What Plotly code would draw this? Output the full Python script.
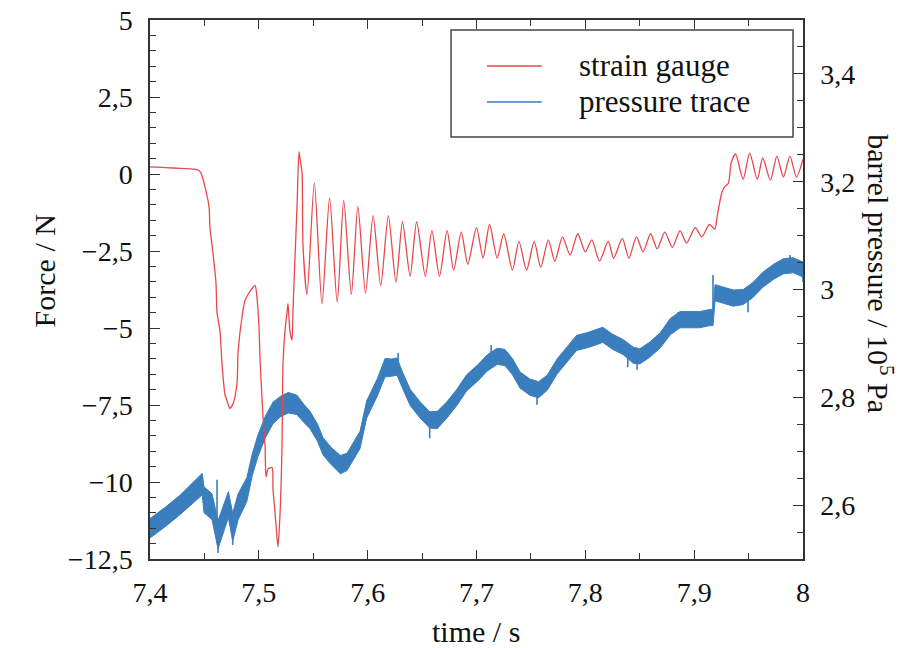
import plotly.graph_objects as go

# strain gauge signal, force in N
t_force = [7.400, 7.414, 7.428, 7.4395, 7.4441, 7.4469, 7.4505, 7.4542, 7.4551, 7.4579,
           7.4606, 7.4616, 7.4643, 7.4662, 7.4689, 7.4708, 7.4726, 7.4735, 7.4763, 7.480,
           7.4809, 7.4845, 7.4873, 7.4919, 7.4965, 7.4983, 7.5002, 7.5011, 7.5029, 7.5038,
           7.5057, 7.5066, 7.5084, 7.5121, 7.513, 7.5149, 7.5167, 7.5176, 7.5195, 7.5213,
           7.5222, 7.524, 7.5259, 7.5268, 7.5286, 7.5305, 7.5314, 7.5332, 7.5351, 7.5369,
           7.5378, 7.5397, 7.5406, 7.5443,
           7.551, 7.558, 7.565, 7.572, 7.578, 7.585, 7.591, 7.598, 7.605, 7.612,
           7.619, 7.626, 7.632, 7.639, 7.645, 7.653, 7.659, 7.666, 7.673, 7.679,
           7.686, 7.692, 7.700, 7.706, 7.712, 7.719, 7.725, 7.733, 7.739, 7.746,
           7.753, 7.759, 7.766, 7.772, 7.779, 7.786, 7.793, 7.800, 7.806, 7.813,
           7.821, 7.826, 7.834, 7.840, 7.847, 7.853, 7.860, 7.866, 7.873, 7.880,
           7.887, 7.893, 7.901, 7.907, 7.914, 7.919, 7.921, 7.9255, 7.928, 7.9315,
           7.934, 7.938, 7.945, 7.951, 7.958, 7.963, 7.970, 7.976, 7.982, 7.988,
           7.994, 8.000]
force = [0.23, 0.21, 0.18, 0.16, 0.13, 0.03, -0.42, -1.05, -1.74, -2.58,
         -3.52, -4.50, -5.10, -6.18, -7.17, -7.36, -7.56, -7.61, -7.46, -6.77,
         -5.79, -4.65, -4.11, -3.81, -3.62, -4.01, -5.00, -5.98, -7.27, -7.86,
         -8.84, -9.83, -9.58, -9.53, -10.22, -11.01, -11.80, -12.10, -11.01, -8.84,
         -6.18, -5.10, -4.50, -4.21, -5.10, -5.39, -4.41, -2.73, -1.05, 0.72,
         0.52, 0.03, -2.34, -3.91,
         -0.29, -4.21, -0.78, -4.17, -0.86, -3.91, -1.05, -3.87, -1.35, -3.62,
         -1.35, -3.52, -1.55, -3.32, -1.55, -3.32, -1.84, -3.32, -1.84, -3.12,
         -1.89, -2.93, -1.74, -2.73, -1.64, -2.73, -1.94, -3.12, -2.19, -3.12,
         -2.19, -3.03, -2.14, -2.83, -2.04, -2.63, -1.94, -2.53, -2.14, -2.83,
         -2.19, -2.73, -2.09, -2.73, -2.04, -2.53, -1.94, -2.43, -1.89, -2.38,
         -1.84, -2.24, -1.74, -2.04, -1.64, -1.79, -1.40, -0.59, -0.42, -0.29,
         0.36, 0.65, -0.17, 0.68, -0.17, 0.52, -0.20, 0.58, -0.10, 0.58,
         -0.10, 0.48]

# pressure trace, 10^5 Pa: centre of the noisy band and its half width
t_press = [7.400, 7.414, 7.428, 7.441, 7.448, 7.4496, 7.457, 7.4625, 7.469, 7.472,
           7.476, 7.481, 7.489, 7.494, 7.499, 7.506, 7.513, 7.520, 7.527, 7.535,
           7.541, 7.547, 7.554, 7.559, 7.567, 7.575, 7.581, 7.588, 7.593, 7.599,
           7.609, 7.616, 7.622, 7.627, 7.632, 7.639, 7.648, 7.657, 7.664, 7.673,
           7.682, 7.691, 7.701, 7.710, 7.719, 7.726, 7.733, 7.740, 7.749, 7.757,
           7.765, 7.774, 7.783, 7.792, 7.802, 7.811, 7.816, 7.825, 7.835, 7.844,
           7.850, 7.859, 7.869, 7.878, 7.887, 7.896, 7.905, 7.9146, 7.9173, 7.9192,
           7.927, 7.936, 7.945, 7.954, 7.963, 7.973, 7.982, 7.991, 8.000]
press_mid = [2.557, 2.578, 2.601, 2.625, 2.639, 2.610, 2.597, 2.545, 2.582, 2.601,
             2.559, 2.597, 2.629, 2.675, 2.709, 2.745, 2.771, 2.783, 2.790, 2.786,
             2.771, 2.758, 2.734, 2.709, 2.690, 2.675, 2.680, 2.703, 2.721, 2.777,
             2.819, 2.855, 2.855, 2.857, 2.832, 2.800, 2.777, 2.758, 2.758, 2.777,
             2.800, 2.827, 2.845, 2.864, 2.876, 2.874, 2.857, 2.832, 2.819, 2.814,
             2.827, 2.857, 2.878, 2.901, 2.906, 2.912, 2.916, 2.903, 2.893, 2.878,
             2.876, 2.888, 2.906, 2.931, 2.944, 2.944, 2.944, 2.948, 2.948, 2.994,
             2.990, 2.984, 2.986, 2.999, 3.018, 3.033, 3.043, 3.045, 3.037]
press_hw = [0.018, 0.018, 0.018, 0.019, 0.020, 0.024, 0.024, 0.026, 0.024, 0.024,
            0.026, 0.024, 0.022, 0.020, 0.020, 0.020, 0.020, 0.019, 0.019, 0.018,
            0.017, 0.016, 0.016, 0.016, 0.016, 0.017, 0.016, 0.016, 0.016, 0.016,
            0.016, 0.017, 0.016, 0.016, 0.015, 0.015, 0.015, 0.015, 0.016, 0.015,
            0.015, 0.015, 0.015, 0.015, 0.015, 0.015, 0.015, 0.015, 0.015, 0.015,
            0.014, 0.014, 0.014, 0.014, 0.014, 0.014, 0.014, 0.014, 0.014, 0.015,
            0.014, 0.014, 0.014, 0.015, 0.015, 0.015, 0.015, 0.015, 0.015, 0.015,
            0.015, 0.015, 0.014, 0.014, 0.014, 0.014, 0.014, 0.014, 0.014]

# single noise spikes that stick out of the pressure band
spike_t = [7.4616, 7.4625, 7.476, 7.628, 7.657, 7.7135, 7.7556, 7.816, 7.839, 7.8475,
           7.885, 7.9173, 7.9495, 7.988, 8.0]
spike_base = [2.570, 2.545, 2.559, 2.850, 2.758, 2.868, 2.815, 2.916, 2.888, 2.877,
              2.941, 2.960, 2.990, 3.044, 3.037]
spike_tip = [2.647, 2.511, 2.526, 2.882, 2.724, 2.897, 2.786, 2.929, 2.856, 2.851,
             2.958, 3.027, 2.958, 3.064, 3.014]

time_ticks = [7.4, 7.5, 7.6, 7.7, 7.8, 7.9, 8.0]
time_labels = ["7,4", "7,5", "7,6", "7,7", "7,8", "7,9", "8"]
force_ticks = [-12.5, -10, -7.5, -5, -2.5, 0, 2.5, 5]
force_labels = ["\u221212,5", "\u221210", "\u22127,5", "\u22125", "\u22122,5", "0", "2,5", "5"]
press_ticks = [2.6, 2.8, 3.0, 3.2, 3.4]
press_labels = ["2,6", "2,8", "3", "3,2", "3,4"]

RED = "#e8474d"
BLUE = "#3a7ebd"
AX = "#333333"
SERIF = "Liberation Serif"

upper = [m + h for m, h in zip(press_mid, press_hw)]
lower = [m - h for m, h in zip(press_mid, press_hw)]

spx, spy = [], []
for t, b, s in zip(spike_t, spike_base, spike_tip):
    spx += [t, t, None]
    spy += [b, s, None]

fig = go.Figure()
# pressure band on the base axis (drawn underneath)
fig.add_trace(go.Scatter(x=t_press + t_press[::-1], y=upper + lower[::-1],
                         fill="toself", fillcolor=BLUE, mode="lines",
                         line=dict(color=BLUE, width=1), yaxis="y",
                         name="pressure trace", showlegend=False, hoverinfo="skip"))
fig.add_trace(go.Scatter(x=spx, y=spy, mode="lines", yaxis="y",
                         line=dict(color=BLUE, width=1.6), showlegend=False, hoverinfo="skip"))
# strain gauge on the overlaying axis (drawn on top)
fig.add_trace(go.Scatter(x=t_force, y=force, mode="lines", yaxis="y2",
                         line=dict(color=RED, width=1.3, shape="spline", smoothing=0.7),
                         name="strain gauge", showlegend=False))

tickfont = dict(family=SERIF, size=28, color="#111")
fig.update_layout(
    width=914, height=648,
    margin=dict(l=142, r=119, t=12, b=97),
    paper_bgcolor="white", plot_bgcolor="white",
    font=dict(family=SERIF, color="#111"),
    xaxis=dict(range=[7.4, 8.0], tickmode="array", tickvals=time_ticks, ticktext=time_labels,
               ticks="inside", ticklen=9, tickwidth=1.2, tickcolor=AX,
               minor=dict(dtick=0.05, tick0=7.4, ticks="inside", ticklen=6, tickcolor=AX),
               showline=True, linecolor=AX, linewidth=1.5, mirror="ticks", automargin=False,
               showgrid=False, zeroline=False, tickfont=tickfont, ticklabelstandoff=8,
               ticklabeloverflow="allow"),
    yaxis=dict(range=[2.5, 3.5], side="right", tickmode="array", tickvals=press_ticks,
               ticktext=press_labels, ticks="inside", ticklen=10, tickwidth=1.2, tickcolor=AX,
               minor=dict(dtick=0.05, tick0=2.5, ticks="inside", ticklen=6, tickcolor=AX),
               showline=True, linecolor=AX, linewidth=1.5, automargin=False,
               showgrid=False, zeroline=False, tickfont=tickfont, ticklabelstandoff=10,
               ticklabeloverflow="allow"),
    yaxis2=dict(range=[-12.5, 5], side="left", overlaying="y", tickmode="array",
                tickvals=force_ticks, ticktext=force_labels, ticks="inside", ticklen=10,
                tickwidth=1.2, tickcolor=AX,
                minor=dict(dtick=0.5, tick0=0, ticks="inside", ticklen=6, tickcolor=AX),
                showline=True, linecolor=AX, linewidth=1.5, automargin=False,
                showgrid=False, zeroline=False, tickfont=tickfont, ticklabelstandoff=10,
                ticklabeloverflow="allow"),
    showlegend=False,
)

title_font = dict(family=SERIF, size=30, color="#111")
# axis titles
fig.add_annotation(text="time / s", xref="paper", yref="paper", x=0.499, y=-0.135,
                   xanchor="center", yanchor="middle", showarrow=False, font=title_font)
fig.add_annotation(text="Force / N", xref="paper", yref="paper", x=-0.162, y=0.534,
                   xanchor="center", yanchor="middle", textangle=-90, showarrow=False,
                   font=title_font)
fig.add_annotation(text="barrel pressure / 10<sup>5</sup> Pa", xref="paper", yref="paper",
                   x=1.118, y=0.53, xanchor="center", yanchor="middle", textangle=90,
                   showarrow=False, font=title_font)

# legend box
legend_font = dict(family=SERIF, size=31, color="#111")
fig.add_shape(type="rect", xref="paper", yref="paper", x0=0.461, x1=0.9847, y0=0.783, y1=0.9814,
              line=dict(color="#444", width=1.5), fillcolor="white", layer="above")
fig.add_shape(type="line", xref="paper", yref="paper", x0=0.516, x1=0.600, y0=0.9147, y1=0.9147,
              line=dict(color=RED, width=1.5), layer="above")
fig.add_shape(type="line", xref="paper", yref="paper", x0=0.516, x1=0.600, y0=0.8479, y1=0.8479,
              line=dict(color=BLUE, width=1.5), layer="above")
fig.add_annotation(text="strain gauge", xref="paper", yref="paper", x=0.654, y=0.9147,
                   xanchor="left", yanchor="middle", showarrow=False, font=legend_font)
fig.add_annotation(text="pressure trace", xref="paper", yref="paper", x=0.654, y=0.8479,
                   xanchor="left", yanchor="middle", showarrow=False, font=legend_font)

fig.write_html("out.html")
